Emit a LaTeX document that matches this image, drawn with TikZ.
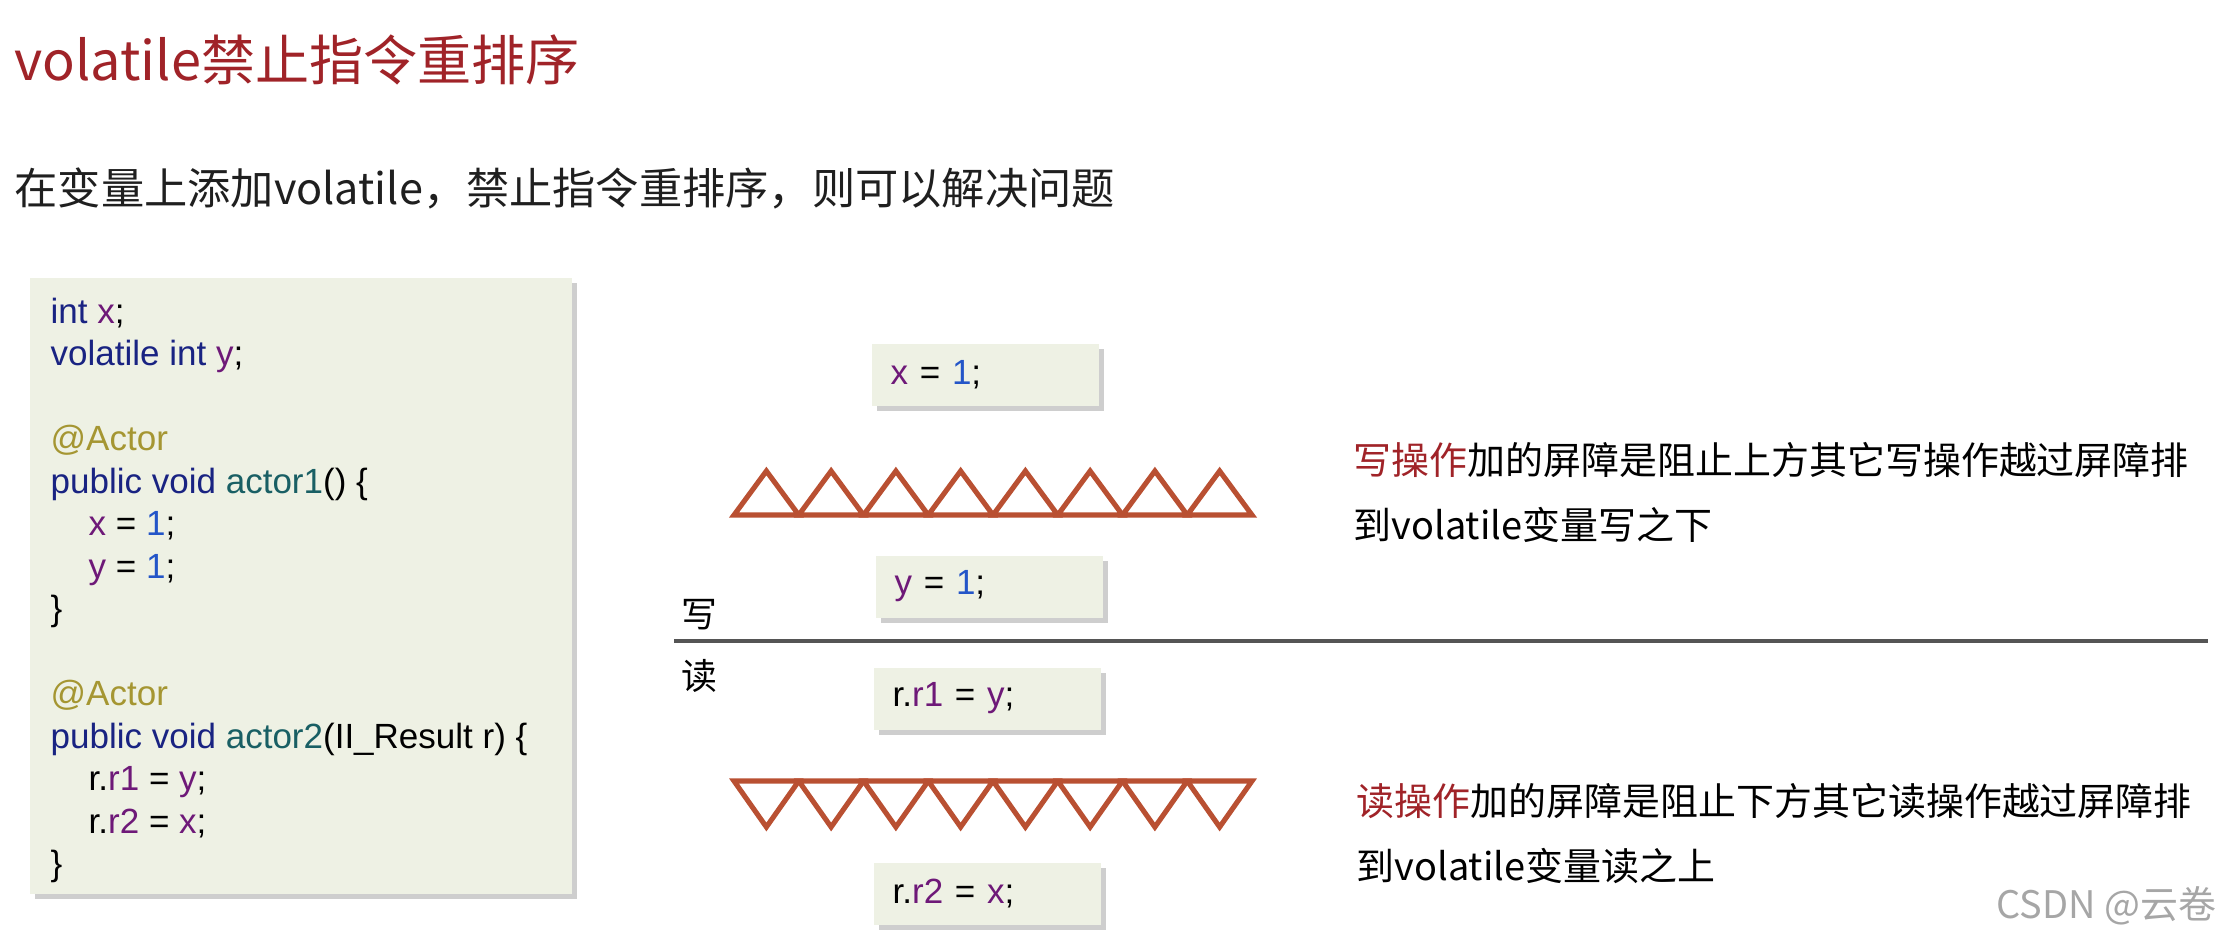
\documentclass[tikz,border=0pt]{standalone}
\usepackage{fontspec}
\usepackage{xcolor}
\setmainfont{Liberation Sans}
\newfontfamily\cjk{Noto Sans CJK SC}
\usetikzlibrary{shadows}

\definecolor{codebg}{RGB}{238,241,228}
\definecolor{kwblue}{RGB}{25,35,130}
\definecolor{varpurple}{RGB}{110,25,120}
\definecolor{numblue}{RGB}{35,85,200}
\definecolor{annolive}{RGB}{165,150,50}
\definecolor{funteal}{RGB}{25,95,100}
\definecolor{barrierred}{RGB}{185,80,50}
\definecolor{titlered}{RGB}{160,35,40}
\definecolor{divgray}{RGB}{85,85,85}

\newcommand{\ckw}[1]{\textcolor{kwblue}{#1}}
\newcommand{\cvar}[1]{\textcolor{varpurple}{#1}}
\newcommand{\cnum}[1]{\textcolor{numblue}{#1}}
\newcommand{\cann}[1]{\textcolor{annolive}{#1}}
\newcommand{\cfun}[1]{\textcolor{funteal}{#1}}
\newcommand{\codefont}{\fontsize{9.96}{12}\selectfont}

\begin{document}
\begin{tikzpicture}[
  codebox/.style={rectangle,fill=codebg,inner sep=0pt,
    drop shadow={shadow xshift=0.055cm,shadow yshift=-0.055cm,fill=black!55,opacity=0.35}},
  stmt/.style={codebox,anchor=west,minimum height=0.62cm,text width=1.89cm,
    inner xsep=0.19cm,align=left,font=\codefont},
  codeline/.style={anchor=base west,inner sep=0pt,font=\codefont},
  barrier/.style={draw=barrierred,line width=1.45pt},
  divider/.style={draw=divgray,line width=1.2pt},
  note/.style={anchor=west,align=left,inner sep=0pt,font=\cjk\fontsize{10.8}{18.5}\selectfont},
  side/.style={inner sep=0pt,font=\cjk\fontsize{10.2}{12}\selectfont}
]
\useasboundingbox (0,0) rectangle (22.38,-9.46);

% Heading
\node[anchor=west,inner sep=0pt,text=titlered,font=\cjk\fontsize{15.4}{19}\selectfont] (title) at (0.14,-0.60) {volatile禁止指令重排序};
\node[anchor=west,inner sep=0pt,text=black!88,font=\cjk\fontsize{12.3}{15}\selectfont] (subtitle) at (0.14,-1.88) {在变量上添加volatile，禁止指令重排序，则可以解决问题};

% Source code
\node[codebox,minimum width=5.42cm,minimum height=6.16cm,anchor=north west] (code) at (0.29,-2.77) {};
\foreach \i/\x/\txt in {
  0/0.50/{\ckw{int} \cvar{x};},
  1/0.50/{\ckw{volatile int} \cvar{y};},
  3/0.50/{\cann{@Actor}},
  4/0.50/{\ckw{public void} \cfun{actor1}() \{},
  5/0.88/{\cvar{x} = \cnum{1};},
  6/0.88/{\cvar{y} = \cnum{1};},
  7/0.50/{\}},
  9/0.50/{\cann{@Actor}},
  10/0.50/{\ckw{public void} \cfun{actor2}(II\_Result r) \{},
  11/0.88/{r.\cvar{r1} = \cvar{y};},
  12/0.88/{r.\cvar{r2} = \cvar{x};},
  13/0.50/{\}}}
  \node[codeline] (line\i) at (\x,{-3.23-0.425*\i}) {\txt};

% Write side
\node[stmt] (wx) at (8.71,-3.745) {\cvar{x} = \cnum{1};};
\foreach \i in {0,...,7}
  \draw[barrier] ({7.34+0.6475*\i},-5.15) -- ++(0.32375,0.44) -- ++(0.32375,-0.44) -- cycle;
\node[stmt] (wy) at (8.75,-5.865) {\cvar{y} = \cnum{1};};

% Divider
\coordinate (divL) at (6.74,-6.41);
\coordinate (divR) at (22.08,-6.41);
\draw[divider] (divL) -- (divR);
\node[side] (wlab) at (6.99,-6.15) {写};
\node[side] (rlab) at (6.99,-6.76) {读};

% Read side
\node[stmt] (rr1) at (8.73,-6.985) {r.\cvar{r1} = \cvar{y};};
\foreach \i in {0,...,7}
  \draw[barrier] ({7.34+0.6475*\i},-7.81) -- ++(0.32375,-0.46) -- ++(0.32375,0.46) -- cycle;
\node[stmt] (rr2) at (8.73,-8.935) {r.\cvar{r2} = \cvar{x};};

% Notes
\node[note] (wnote) at (13.53,-4.925) {\textcolor{titlered}{写操作}加的屏障是阻止上方其它写操作越过屏障排\\到volatile变量写之下};
\node[note] (rnote) at (13.56,-8.34) {\textcolor{titlered}{读操作}加的屏障是阻止下方其它读操作越过屏障排\\到volatile变量读之上};

\node[anchor=east,inner sep=0pt,text=black!35,font=\cjk\fontsize{10.8}{13}\selectfont] (mark) at (22.17,-9.06) {CSDN @云卷};
\end{tikzpicture}
\end{document}
